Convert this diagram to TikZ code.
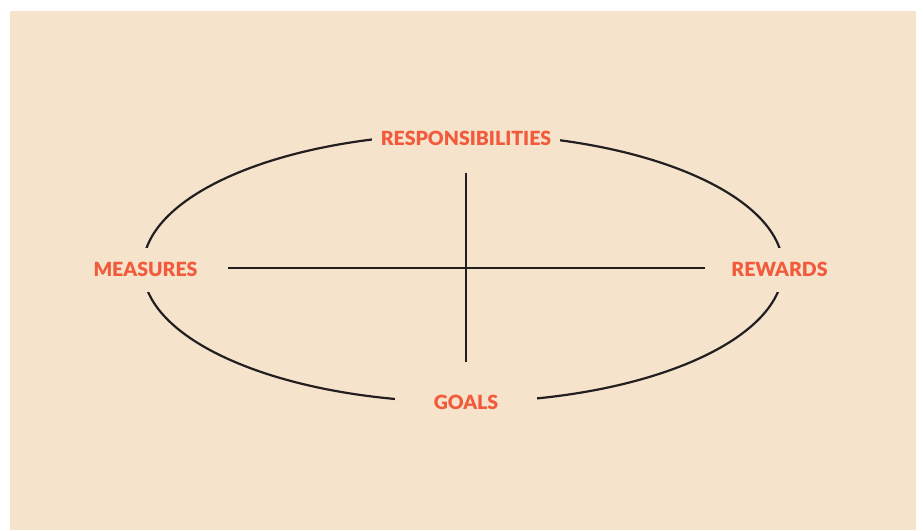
\documentclass[tikz,border=0pt]{standalone}
\usepackage{fontspec}
\setmainfont{Lato}[BoldFont={Lato Black}]
\usepackage{tikz}
\definecolor{paper}{HTML}{F5E3CC}
\definecolor{labelred}{HTML}{F15A3B}
\definecolor{ink}{HTML}{231F20}

\begin{document}
\begin{tikzpicture}[x=1pt,y=-1pt]
    \tikzset{label/.style = {fill=paper,text=labelred,font=\fontsize{19.5}{20}\selectfont\bfseries,inner ysep=4pt}}
    \tikzset{line/.style = {draw=ink,line width=2.2pt}}

    \useasboundingbox (0,0) rectangle (923,530);
    \fill[paper] (10,11) rectangle (916,530);

    \coordinate (c) at (463,268);
    \draw[line] (c) ellipse [x radius=320, y radius=134];

    \node[label, inner xsep=9pt] (r) at (466,138.5) {RESPONSIBILITIES};
    \node[label, inner xsep=8pt, minimum height=44pt] (m) at (145.5,269.5) {MEASURES};
    \node[label, inner xsep=8pt, minimum height=44pt] (w) at (779.5,269.5) {REWARDS};
    \node[label, inner xsep=39pt] (g) at (466,402) {GOALS};

    \coordinate (h1) at (228,268);
    \coordinate (h2) at (705,268);
    \coordinate (v1) at (466,173);
    \coordinate (v2) at (466,362);
    \draw[line] (h1) -- (h2);
    \draw[line] (v1) -- (v2);

  \end{tikzpicture}
\end{document}
